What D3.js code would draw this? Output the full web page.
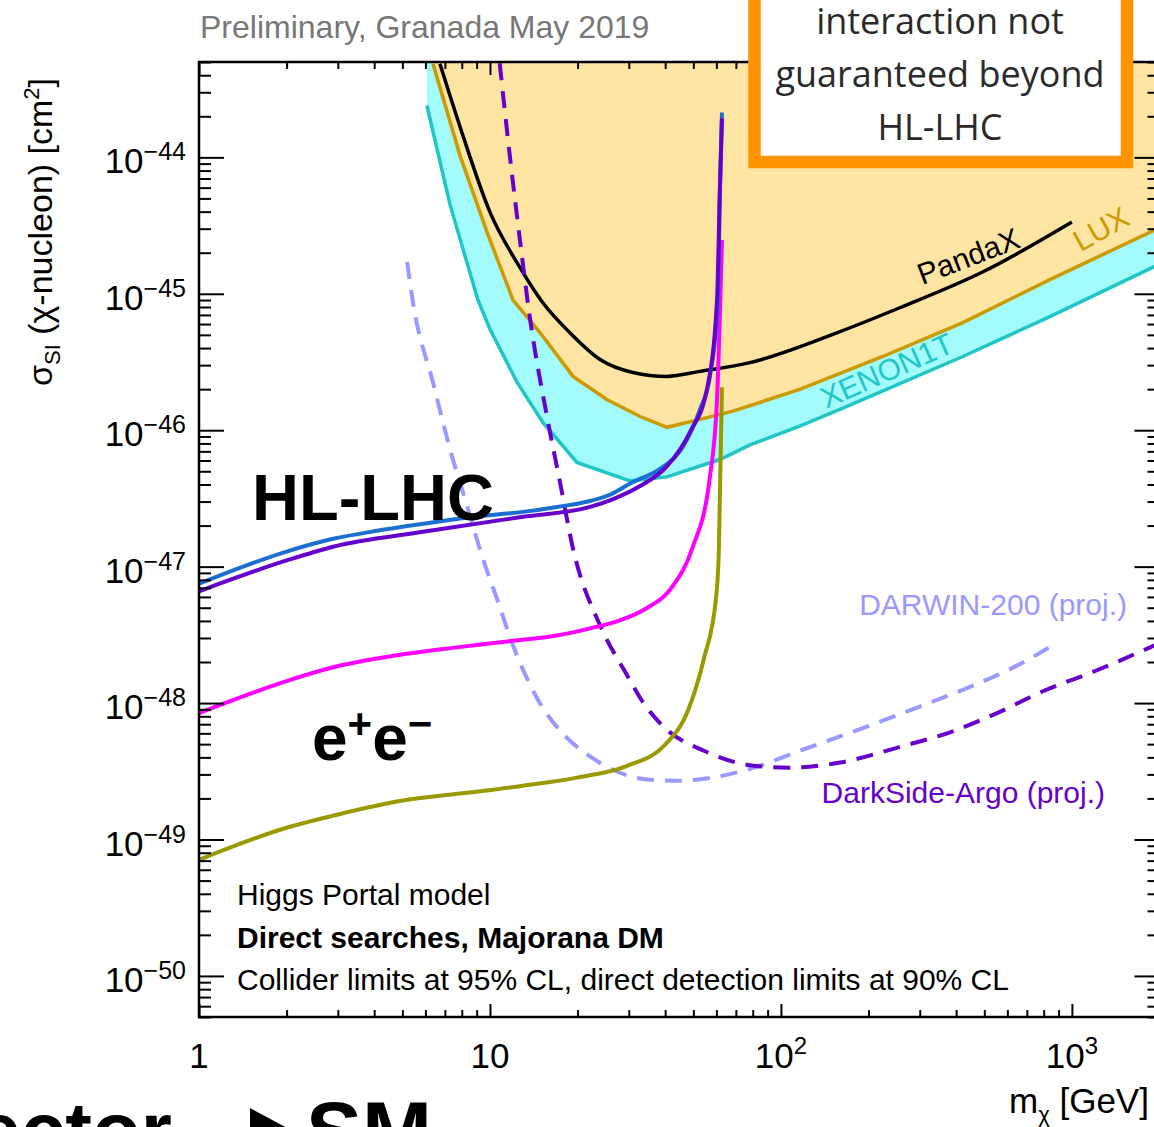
<!DOCTYPE html>
<html>
<head>
<meta charset="utf-8">
<script src="https://cdn.jsdelivr.net/npm/d3@7"></script>
<style>
  body { margin: 0; background: #fff; }
  svg { display: block; }
</style>
</head>
<body>
<div id="chart"></div>
<script>
// ---- data: [mass in GeV, sigma_SI in cm^2] ----
var xenon1t = [[6.07,2.4e-44],[7.29,4.5e-45],[9.09,9.0e-46],[10,5.5e-46],[12.4,2.24e-46],[15.2,1.14e-46],
  [19.9,5.8e-47],[30.3,4.25e-47],[40.6,4.55e-47],[61.7,6.1e-47],[78.3,7.8e-47],[116,1.07e-46],
  [159.5,1.42e-46],[422,3.47e-46],[840,6.8e-46],[2000,1.65e-45]];
var lux = [[6.37,4.85e-44],[7.89,1.03e-44],[9.76,2.84e-45],[12.0,9.0e-46],[14.85,5.2e-46],[19.3,2.48e-46],
  [25.2,1.68e-46],[32.8,1.26e-46],[40.6,1.05e-46],[52.7,1.2e-46],[68.4,1.38e-46],[116,1.99e-46],
  [224,3.47e-46],[422,6.14e-46],[840,1.27e-45],[2000,3.05e-45]];
var pandax = [[6.73,4.85e-44],[8.01,1.52e-44],[10,3.97e-45],[12.7,1.55e-45],[15.2,8.6e-46],[18.8,5.2e-46],
  [23.9,3.3e-46],[31.0,2.65e-46],[40.6,2.48e-46],[52.7,2.7e-46],[78.3,3.13e-46],[159.5,5.28e-46],
  [256,7.9e-46],[495,1.45e-45],[1000,3.36e-45]];
var hlLhcBlue = [[1,7.5e-48],[2,1.29e-47],[2.89,1.6e-47],[4.09,1.83e-47],[5.89,2.06e-47],[8.74,2.32e-47],
  [13.0,2.52e-47],[17.0,2.74e-47],[22.1,3.03e-47],[25.8,3.36e-47],[31.0,4.17e-47],[38.4,5.2e-47],
  [46.1,7.6e-47],[52.7,1.42e-46],[57.0,2.48e-46],[60.75,9.0e-46],[61.7,5.9e-45],[62.7,2.13e-44]];
var hlLhcPurple = [[1,6.6e-48],[2,1.11e-47],[2.89,1.4e-47],[5.89,1.8e-47],[13.0,2.32e-47],[22.1,2.74e-47],
  [26.5,3.13e-47],[32.8,3.9e-47],[40.6,5.46e-47],[48.7,9.7e-47],[55.7,2.0e-46],[60.3,9.0e-46],
  [61.7,5.9e-45],[62.7,1.93e-44]];
var eeMagenta = [[1,8.45e-49],[2,1.45e-48],[2.98,1.86e-48],[4.53,2.2e-48],[7.7,2.56e-48],[11.7,2.84e-48],
  [17.0,3.13e-48],[22.1,3.53e-48],[27.3,3.97e-48],[34.4,4.93e-48],[42.6,7.26e-48],[49.5,1.35e-47],
  [57.0,4.54e-47],[60.3,1.68e-46],[62.7,2.48e-45]];
var eeOlive = [[1,7.1e-50],[2,1.22e-49],[2.98,1.52e-49],[5.02,1.93e-49],[8.34,2.2e-49],[13.0,2.48e-49],
  [19.9,2.84e-49],[29.6,3.47e-49],[39.9,4.93e-49],[48.3,9.2e-49],[54.4,2.13e-48],[59.8,5.84e-48],
  [61.2,1.35e-47],[62.7,2.06e-46]];
var darksideArgo = [[10.8,4.9e-44],[11.7,1.03e-44],[12.7,2.4e-45],[13.7,6.8e-46],[15.7,1.26e-46],
  [17.4,4.17e-47],[19.3,1.35e-47],[23.9,3.71e-48],[29.6,1.6e-48],[33.3,1.04e-48],[39.9,6.58e-49],
  [54.4,4.47e-49],[80.8,3.47e-49],[106.5,3.36e-49],[158,3.65e-49],[250,4.7e-49],[393,6.25e-49],
  [553,8.45e-49],[795,1.22e-48],[1219,1.74e-48],[2000,2.75e-48]];
var darwin200 = [[5.19,1.71e-45],[5.44,8.6e-46],[6.37,2.24e-46],[7.29,7.26e-47],[8.34,2.79e-47],
  [9.46,1.14e-47],[10.56,5.84e-48],[12.0,2.65e-48],[14.5,1.09e-48],[18.4,5.56e-49],[21.7,4.17e-49],
  [26.9,3.19e-49],[35.5,2.74e-49],[45.3,2.7e-49],[57.9,2.84e-49],[80.8,3.36e-49],[116,4.47e-49],
  [184,6.35e-49],[291,9.2e-49],[460,1.35e-48],[622,1.8e-48],[860,2.65e-48]];

var xMajorTicks = [1, 10, 100, 1000];
var xTickExp = ["", "", "2", "3"];
var xTickBase = ["1", "10", "10", "10"];
var yMajorExp = [-44, -45, -46, -47, -48, -49, -50];

var W = 1154, H = 1127;
var pLeft = 199, pRight = 1159.5, pTop = 62, pBottom = 1017;
var font = "'Liberation Sans', Arial, Helvetica, sans-serif";

var x = d3.scaleLog().domain([1, 2000]).range([pLeft, pRight]);
var y = d3.scaleLog().domain([5e-51, 5e-44]).range([pBottom, pTop]);

var svg = d3.select("#chart").append("svg")
    .attr("width", W).attr("height", H)
    .style("font-family", font);

svg.append("defs").append("clipPath").attr("id", "plotclip")
  .append("rect").attr("x", pLeft).attr("y", pTop)
    .attr("width", pRight - pLeft).attr("height", pBottom - pTop);

var plot = svg.append("g").attr("clip-path", "url(#plotclip)");

var smooth = d3.line().x(function(d) { return x(d[0]); }).y(function(d) { return y(d[1]); })
    .curve(d3.curveMonotoneX);
var straight = d3.line().x(function(d) { return x(d[0]); }).y(function(d) { return y(d[1]); });

var yMax = y.domain()[1], xMax = x.domain()[1];

// excluded regions
plot.append("path")
    .attr("d", straight(xenon1t.concat([[xMax, yMax], [xenon1t[0][0], yMax]])) + "Z")
    .attr("fill", "#a3fbfb");
plot.append("path")
    .attr("d", straight(lux.concat([[xMax, yMax], [lux[0][0], yMax]])) + "Z")
    .attr("fill", "#fee5a3");

plot.append("path").attr("d", straight(xenon1t)).attr("fill", "none")
    .attr("stroke", "#20c6c6").attr("stroke-width", 3.5);
plot.append("path").attr("d", straight(lux)).attr("fill", "none")
    .attr("stroke", "#cc9900").attr("stroke-width", 3.5);
plot.append("path").attr("d", smooth(pandax)).attr("fill", "none")
    .attr("stroke", "#000").attr("stroke-width", 3.5);

// projections
plot.append("path").attr("d", smooth(darwin200)).attr("fill", "none")
    .attr("stroke", "#9999ff").attr("stroke-width", 4).attr("stroke-dasharray", "17,11");
plot.append("path").attr("d", smooth(darksideArgo)).attr("fill", "none")
    .attr("stroke", "#6600cc").attr("stroke-width", 4).attr("stroke-dasharray", "17,11");

// collider limits
[[eeOlive, "#999900"], [eeMagenta, "#ff00ff"], [hlLhcBlue, "#1a6fd0"], [hlLhcPurple, "#6600cc"]]
  .forEach(function(c) {
    plot.append("path").attr("d", smooth(c[0])).attr("fill", "none")
        .attr("stroke", c[1]).attr("stroke-width", 4);
  });

// ---- axes ----
function isDecade(v) { var l = Math.log10(v); return Math.abs(l - Math.round(l)) < 1e-6; }
var xMinor = x.ticks().filter(function(v) { return !isDecade(v); });
var yAll = y.ticks();
var yMajor = yAll.filter(isDecade), yMinor = yAll.filter(function(v) { return !isDecade(v); });

function ax(gen, pos, vals, size) {
  var g = svg.append("g").attr("transform", pos)
    .call(gen.tickValues(vals).tickSize(size).tickFormat(""));
  g.select(".domain").remove();
  g.selectAll(".tick line").attr("stroke", "#000").attr("stroke-width", 2);
}
ax(d3.axisBottom(x), "translate(0," + pBottom + ")", xMajorTicks, -13);
ax(d3.axisBottom(x), "translate(0," + pBottom + ")", xMinor, -7);
ax(d3.axisTop(x), "translate(0," + pTop + ")", xMajorTicks, -13);
ax(d3.axisTop(x), "translate(0," + pTop + ")", xMinor, -7);
ax(d3.axisLeft(y), "translate(" + pLeft + ",0)", yMajor, -25);
ax(d3.axisLeft(y), "translate(" + pLeft + ",0)", yMinor, -12);
ax(d3.axisRight(y), "translate(" + pRight + ",0)", yMajor, -25);
ax(d3.axisRight(y), "translate(" + pRight + ",0)", yMinor, -12);

svg.append("rect").attr("x", pLeft).attr("y", pTop)
    .attr("width", pRight - pLeft).attr("height", pBottom - pTop)
    .attr("fill", "none").attr("stroke", "#000").attr("stroke-width", 2.5);

// tick labels
xMajorTicks.forEach(function(v, i) {
  var t = svg.append("text").attr("x", x(v)).attr("y", 1068)
      .attr("text-anchor", "middle").style("font-size", "35px");
  t.append("tspan").text(xTickBase[i]);
  if (xTickExp[i]) t.append("tspan").attr("dy", -14).style("font-size", "24px").text(xTickExp[i]);
});
yMajorExp.forEach(function(e) {
  var t = svg.append("text").attr("x", 186).attr("y", y(Math.pow(10, e)) + 16)
      .attr("text-anchor", "end").style("font-size", "35px");
  t.append("tspan").text("10");
  t.append("tspan").attr("dy", -13).style("font-size", "25px").text("\u2212" + (-e));
});

// axis titles
var yt = svg.append("text").attr("transform", "translate(52,232) rotate(-90)")
    .attr("text-anchor", "middle").style("font-size", "34px");
yt.append("tspan").text("\u03c3");
yt.append("tspan").attr("dy", 8).style("font-size", "22px").text("SI");
yt.append("tspan").attr("dy", -8).text(" (\u03c7-nucleon) [cm");
yt.append("tspan").attr("dy", -13).style("font-size", "22px").text("2");
yt.append("tspan").attr("dy", 13).text("]");

var xt = svg.append("text").attr("x", 1009).attr("y", 1113).style("font-size", "35px");
xt.append("tspan").text("m");
xt.append("tspan").attr("dy", 9).style("font-size", "22px").text("\u03c7");
xt.append("tspan").attr("dy", -9).text(" [GeV]");

// curve labels
function label(txt, px, py, rot, col, size) {
  svg.append("text").attr("transform", "translate(" + px + "," + py + ") rotate(" + rot + ")")
    .attr("text-anchor", "middle").attr("fill", col).style("font-size", size + "px").text(txt);
}
label("PandaX", 972, 266, -21, "#000", 30);
label("LUX", 1106, 238, -29, "#cc9900", 30);
label("XENON1T", 891, 380, -24, "#20c6c6", 30);
svg.append("text").attr("x", 1127).attr("y", 615).attr("text-anchor", "end")
    .attr("fill", "#9999ff").style("font-size", "30px").text("DARWIN-200 (proj.)");
svg.append("text").attr("x", 1105).attr("y", 803).attr("text-anchor", "end")
    .attr("fill", "#6600cc").style("font-size", "30px").text("DarkSide-Argo (proj.)");

svg.append("text").attr("x", 252).attr("y", 520).attr("font-weight", 700)
    .style("font-size", "65px").text("HL-LHC");
var ee = svg.append("text").attr("x", 312).attr("y", 760).attr("font-weight", 700).style("font-size", "64px");
ee.append("tspan").text("e");
ee.append("tspan").attr("dy", -22).style("font-size", "42px").text("+");
ee.append("tspan").attr("dy", 22).text("e");
ee.append("tspan").attr("dy", -22).style("font-size", "42px").text("\u2212");

svg.append("text").attr("x", 237).attr("y", 905).style("font-size", "30px").text("Higgs Portal model");
svg.append("text").attr("x", 237).attr("y", 948).attr("font-weight", 700).style("font-size", "30px")
    .text("Direct searches, Majorana DM");
svg.append("text").attr("x", 237).attr("y", 990).style("font-size", "30px")
    .text("Collider limits at 95% CL, direct detection limits at 90% CL");

// slide decorations around the plot
svg.append("text").attr("x", 200).attr("y", 38).attr("fill", "#777").style("font-size", "32px")
    .text("Preliminary, Granada May 2019");

svg.append("rect").attr("x", 754.5).attr("y", -20).attr("width", 372.5).attr("height", 182)
    .attr("fill", "#fff").attr("stroke", "#ff9400").attr("stroke-width", 12.5);
["interaction not", "guaranteed beyond", "HL-LHC"].forEach(function(s, i) {
  svg.append("text").attr("x", 940).attr("y", 34 + i * 53).attr("text-anchor", "middle")
    .attr("fill", "#2a2a2a").style("font-family", "'Open Sans', sans-serif").style("font-size", "36px")
    .text(s);
});

svg.append("text").attr("x", 172).attr("y", 1158).attr("text-anchor", "end").attr("font-weight", 700)
    .style("font-size", "80px").text("Dark sector");
svg.append("path").attr("d", "M250,1108 L302,1136 L250,1164 Z").attr("fill", "#000");
svg.append("text").attr("x", 306).attr("y", 1160).attr("font-weight", 700)
    .style("font-size", "84px").text("SM");
</script>
</body>
</html>
